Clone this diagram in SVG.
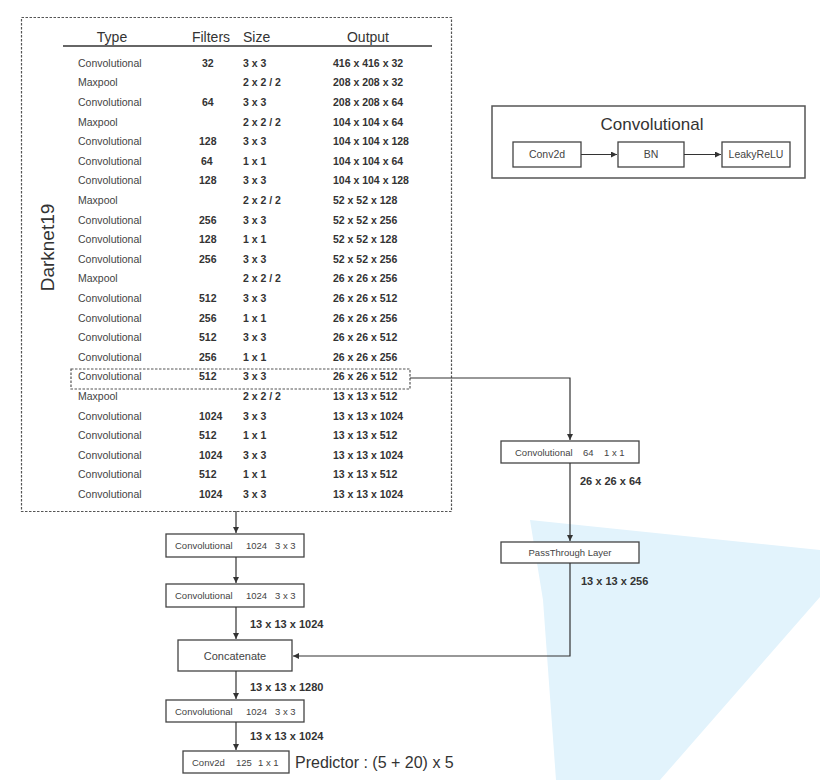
<svg xmlns="http://www.w3.org/2000/svg" width="820" height="780" viewBox="0 0 820 780">
<style>
  .hdr{font-family:"Liberation Sans",Arial,sans-serif;font-size:14px;fill:#333}
  .typ{font-family:"Liberation Sans",Arial,sans-serif;font-size:10.5px;fill:#444}
  .num{font-family:"Liberation Sans",Arial,sans-serif;font-size:10.5px;font-weight:bold;fill:#333}
  .box{fill:#fff;stroke:#444;stroke-width:1.3}
  .bt{font-family:"Liberation Sans",Arial,sans-serif;font-size:9.5px;fill:#444}
  .lbl{font-family:"Liberation Sans",Arial,sans-serif;font-size:11px;font-weight:bold;fill:#333}
  .dash{fill:none;stroke:#555;stroke-width:1.2;stroke-dasharray:2.5 1.5}
  .con{fill:none;stroke:#333;stroke-width:1.2}
</style>
<defs>
  <marker id="arr" markerUnits="userSpaceOnUse" markerWidth="7" markerHeight="7" refX="6" refY="3" orient="auto">
    <path d="M0,0 L6,3 L0,6 z" fill="#333"/>
  </marker>
</defs>
<rect width="820" height="780" fill="#fff"/>
<polygon points="530,520 820,550 820,597 660,780 556,780 543,600" fill="#e2f3fc"/>

<g id="darknet19">
  <rect class="dash" x="21.5" y="17.5" width="430" height="494"/>
  <text x="54" y="247.5" transform="rotate(-90 54 247.5)" text-anchor="middle" font-family="Liberation Sans, Arial, sans-serif" font-size="19" fill="#333">Darknet19</text>
  <text class="hdr" x="112" y="42" text-anchor="middle">Type</text>
  <text class="hdr" x="211" y="42" text-anchor="middle">Filters</text>
  <text class="hdr" x="243" y="42">Size</text>
  <text class="hdr" x="368" y="42" text-anchor="middle">Output</text>
  <line x1="63" y1="46" x2="432" y2="46" stroke="#333" stroke-width="1.5"/>
  <g class="typ">
    <text x="78" y="66.7">Convolutional</text>
    <text x="78" y="86.3">Maxpool</text>
    <text x="78" y="105.9">Convolutional</text>
    <text x="78" y="125.5">Maxpool</text>
    <text x="78" y="145.1">Convolutional</text>
    <text x="78" y="164.7">Convolutional</text>
    <text x="78" y="184.3">Convolutional</text>
    <text x="78" y="203.9">Maxpool</text>
    <text x="78" y="223.5">Convolutional</text>
    <text x="78" y="243.1">Convolutional</text>
    <text x="78" y="262.7">Convolutional</text>
    <text x="78" y="282.3">Maxpool</text>
    <text x="78" y="301.9">Convolutional</text>
    <text x="78" y="321.5">Convolutional</text>
    <text x="78" y="341.1">Convolutional</text>
    <text x="78" y="360.7">Convolutional</text>
    <text x="78" y="380.3">Convolutional</text>
    <text x="78" y="399.9">Maxpool</text>
    <text x="78" y="419.5">Convolutional</text>
    <text x="78" y="439.1">Convolutional</text>
    <text x="78" y="458.7">Convolutional</text>
    <text x="78" y="478.3">Convolutional</text>
    <text x="78" y="497.9">Convolutional</text>
  </g>
  <g class="num">
    <text x="202" y="66.7">32</text>
    <text x="202" y="105.9">64</text>
    <text x="199" y="145.1">128</text>
    <text x="201" y="164.7">64</text>
    <text x="199" y="184.3">128</text>
    <text x="199" y="223.5">256</text>
    <text x="199" y="243.1">128</text>
    <text x="199" y="262.7">256</text>
    <text x="199" y="301.9">512</text>
    <text x="199" y="321.5">256</text>
    <text x="199" y="341.1">512</text>
    <text x="199" y="360.7">256</text>
    <text x="199" y="380.3">512</text>
    <text x="199" y="419.5">1024</text>
    <text x="199" y="439.1">512</text>
    <text x="199" y="458.7">1024</text>
    <text x="199" y="478.3">512</text>
    <text x="199" y="497.9">1024</text>
  </g>
  <g class="num">
    <text x="243" y="66.7">3 x 3</text>
    <text x="243" y="86.3">2 x 2 / 2</text>
    <text x="243" y="105.9">3 x 3</text>
    <text x="243" y="125.5">2 x 2 / 2</text>
    <text x="243" y="145.1">3 x 3</text>
    <text x="243" y="164.7">1 x 1</text>
    <text x="243" y="184.3">3 x 3</text>
    <text x="243" y="203.9">2 x 2 / 2</text>
    <text x="243" y="223.5">3 x 3</text>
    <text x="243" y="243.1">1 x 1</text>
    <text x="243" y="262.7">3 x 3</text>
    <text x="243" y="282.3">2 x 2 / 2</text>
    <text x="243" y="301.9">3 x 3</text>
    <text x="243" y="321.5">1 x 1</text>
    <text x="243" y="341.1">3 x 3</text>
    <text x="243" y="360.7">1 x 1</text>
    <text x="243" y="380.3">3 x 3</text>
    <text x="243" y="399.9">2 x 2 / 2</text>
    <text x="243" y="419.5">3 x 3</text>
    <text x="243" y="439.1">1 x 1</text>
    <text x="243" y="458.7">3 x 3</text>
    <text x="243" y="478.3">1 x 1</text>
    <text x="243" y="497.9">3 x 3</text>
  </g>
  <g class="num">
    <text x="333" y="66.7">416 x 416 x 32</text>
    <text x="333" y="86.3">208 x 208 x 32</text>
    <text x="333" y="105.9">208 x 208 x 64</text>
    <text x="333" y="125.5">104 x 104 x 64</text>
    <text x="333" y="145.1">104 x 104 x 128</text>
    <text x="333" y="164.7">104 x 104 x 64</text>
    <text x="333" y="184.3">104 x 104 x 128</text>
    <text x="333" y="203.9">52 x 52 x 128</text>
    <text x="333" y="223.5">52 x 52 x 256</text>
    <text x="333" y="243.1">52 x 52 x 128</text>
    <text x="333" y="262.7">52 x 52 x 256</text>
    <text x="333" y="282.3">26 x 26 x 256</text>
    <text x="333" y="301.9">26 x 26 x 512</text>
    <text x="333" y="321.5">26 x 26 x 256</text>
    <text x="333" y="341.1">26 x 26 x 512</text>
    <text x="333" y="360.7">26 x 26 x 256</text>
    <text x="333" y="380.3">26 x 26 x 512</text>
    <text x="333" y="399.9">13 x 13 x 512</text>
    <text x="333" y="419.5">13 x 13 x 1024</text>
    <text x="333" y="439.1">13 x 13 x 512</text>
    <text x="333" y="458.7">13 x 13 x 1024</text>
    <text x="333" y="478.3">13 x 13 x 512</text>
    <text x="333" y="497.9">13 x 13 x 1024</text>
  </g>
</g>
<g id="highlight">
  <rect class="dash" x="71" y="369" width="339" height="20"/>
</g>

<g id="conv-legend">
  <rect x="492" y="106" width="313" height="72" fill="#fff" stroke="#555" stroke-width="1.5"/>
  <text x="652" y="130" text-anchor="middle" font-family="Liberation Sans, Arial, sans-serif" font-size="17" fill="#333">Convolutional</text>
  <rect class="box" x="513" y="142" width="68" height="25"/>
  <text class="typ" x="547" y="158" text-anchor="middle">Conv2d</text>
  <rect class="box" x="618" y="142" width="66" height="25"/>
  <text class="typ" x="651" y="158" text-anchor="middle">BN</text>
  <rect class="box" x="722" y="142" width="68" height="25"/>
  <text class="typ" x="756" y="158" text-anchor="middle">LeakyReLU</text>
  <line class="con" x1="581" y1="154.5" x2="617" y2="154.5" marker-end="url(#arr)"/>
  <line class="con" x1="684" y1="154.5" x2="721" y2="154.5" marker-end="url(#arr)"/>
</g>

<g id="conv64">
  <rect class="box" x="501" y="441" width="138" height="22"/>
  <text class="bt" x="515" y="455.5">Convolutional</text>
  <text class="bt" x="583" y="455.5">64</text>
  <text class="bt" x="604" y="455.5">1 x 1</text>
</g>
<g id="passthrough">
  <rect class="box" x="501" y="542" width="138" height="21"/>
  <text class="bt" x="570" y="556" text-anchor="middle">PassThrough Layer</text>
</g>
<g id="conv1024a">
  <rect class="box" x="166" y="534" width="138" height="23"/>
  <text class="bt" x="175" y="549">Convolutional</text>
  <text class="bt" x="246" y="549">1024</text>
  <text class="bt" x="275" y="549">3 x 3</text>
</g>
<g id="conv1024b">
  <rect class="box" x="166" y="584" width="138" height="23"/>
  <text class="bt" x="175" y="599">Convolutional</text>
  <text class="bt" x="246" y="599">1024</text>
  <text class="bt" x="275" y="599">3 x 3</text>
</g>
<g id="concatenate">
  <rect class="box" x="178" y="640" width="114" height="31"/>
  <text x="235" y="659.5" text-anchor="middle" font-family="Liberation Sans, Arial, sans-serif" font-size="11" fill="#444">Concatenate</text>
</g>
<g id="conv1024c">
  <rect class="box" x="166" y="700" width="138" height="22"/>
  <text class="bt" x="175" y="714.5">Convolutional</text>
  <text class="bt" x="246" y="714.5">1024</text>
  <text class="bt" x="275" y="714.5">3 x 3</text>
</g>
<g id="conv2d125">
  <rect class="box" x="183" y="751" width="106" height="22"/>
  <text class="bt" x="192" y="765.5">Conv2d</text>
  <text class="bt" x="236" y="765.5">125</text>
  <text class="bt" x="258" y="765.5">1 x 1</text>
  <text x="295" y="768" font-family="Liberation Sans, Arial, sans-serif" font-size="16" fill="#333">Predictor : (5 + 20) x 5</text>
</g>

<g id="connectors">
  <polyline class="con" points="410,378 570,378 570,440" marker-end="url(#arr)"/>
  <line class="con" x1="570" y1="463" x2="570" y2="541" marker-end="url(#arr)"/>
  <polyline class="con" points="570,563 570,656 293,656" marker-end="url(#arr)"/>
  <line class="con" x1="236" y1="511" x2="236" y2="533" marker-end="url(#arr)"/>
  <line class="con" x1="236" y1="557" x2="236" y2="583" marker-end="url(#arr)"/>
  <line class="con" x1="236" y1="607" x2="236" y2="639" marker-end="url(#arr)"/>
  <line class="con" x1="236" y1="671" x2="236" y2="699" marker-end="url(#arr)"/>
  <line class="con" x1="236" y1="722" x2="236" y2="750" marker-end="url(#arr)"/>
  <text class="lbl" x="580" y="485">26 x 26 x 64</text>
  <text class="lbl" x="581" y="585">13 x 13 x 256</text>
  <text class="lbl" x="250" y="628">13 x 13 x 1024</text>
  <text class="lbl" x="250" y="691">13 x 13 x 1280</text>
  <text class="lbl" x="250" y="740">13 x 13 x 1024</text>
</g>
</svg>
